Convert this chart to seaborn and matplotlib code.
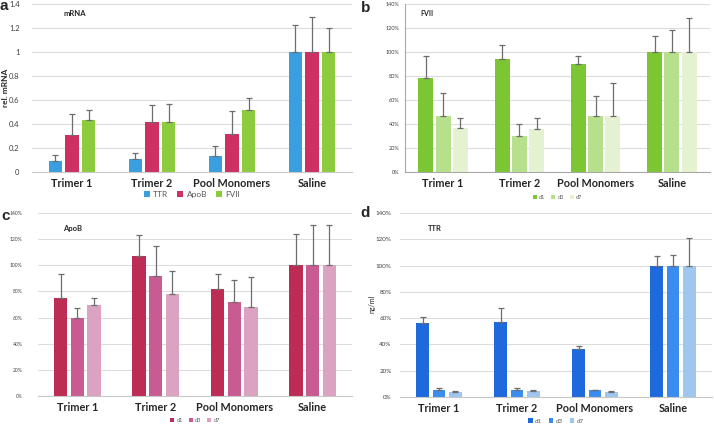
import numpy as np
import pandas as pd
import seaborn as sns
import matplotlib.pyplot as plt
from matplotlib.ticker import PercentFormatter

sns.set_style("white")
plt.rcParams['font.family'] = ['Lato', 'DejaVu Sans']

groups = ['Trimer 1', 'Trimer 2', 'Pool Monomers', 'Saline']

# panel a: relative mRNA
mrna_genes = ['TTR', 'ApoB', 'FVII']
mrna_ttr = [0.09, 0.11, 0.13, 1.0]
mrna_ttr_top = [0.14, 0.155, 0.22, 1.225]
mrna_apob = [0.31, 0.42, 0.32, 1.0]
mrna_apob_top = [0.48, 0.555, 0.505, 1.29]
mrna_fvii = [0.43, 0.42, 0.52, 1.0]
mrna_fvii_top = [0.52, 0.57, 0.615, 1.2]

days = ['d1', 'd3', 'd7']

# panel b: FVII protein (%)
fvii_d1 = [78, 94, 90, 100]
fvii_d1_top = [97, 105.5, 97, 113]
fvii_d3 = [47, 30, 47, 100]
fvii_d3_top = [66, 40, 63, 118]
fvii_d7 = [37, 35.5, 46.5, 100]
fvii_d7_top = [45, 45, 74, 128]

# panel c: ApoB protein (%)
apob_d1 = [75, 107, 82, 100]
apob_d1_top = [93, 123, 93, 124]
apob_d3 = [60, 92, 72, 100]
apob_d3_top = [67, 115, 89, 131]
apob_d7 = [70, 78, 68, 100]
apob_d7_top = [75, 96, 91, 131]

# panel d: TTR protein (%)
ttr_d1 = [56, 57, 36.5, 100]
ttr_d1_top = [61, 68, 38.5, 107]
ttr_d3 = [5.5, 5.5, 5, 100]
ttr_d3_top = [6.5, 6.5, 5.5, 108]
ttr_d7 = [4, 4.5, 4, 100]
ttr_d7_top = [4.5, 5, 4.5, 121]

W, H = 714, 426
fig = plt.figure(figsize=(W / 100, H / 100), dpi=100)


def px_axes(left, top, right, bottom):
    ax = fig.add_axes([left / W, 1 - bottom / H, (right - left) / W, (bottom - top) / H])
    ax.h_px = bottom - top
    return ax


def panel(ax, series, tops, names, colors, ymax, step, pct, tick_fs, tick_pad,
          leg_fs, leg_dy, width, gap):
    df = pd.DataFrame({
        'group': np.tile(groups, len(names)),
        'series': np.repeat(names, len(groups)),
        'value': np.concatenate(series),
    })
    sns.barplot(data=df, x='group', y='value', hue='series', order=groups,
                hue_order=names, palette=colors, errorbar=None, width=width,
                gap=gap, saturation=1, linewidth=0, ax=ax, zorder=2)
    # upper-only error bars
    for cont, top in zip(ax.containers, tops):
        xs = [b.get_x() + b.get_width() / 2 for b in cont]
        hs = [b.get_height() for b in cont]
        err = np.array(top) - np.array(hs)
        ax.errorbar(xs, hs, yerr=[np.zeros(len(hs)), err], fmt='none',
                    ecolor='#6d6d6d', elinewidth=0.9, capsize=2.0, capthick=0.9, zorder=3)
    ax.set_xlim(-0.5, 3.5)
    ax.set_ylim(0, ymax)
    ax.set_yticks(np.arange(0, ymax + step / 2, step))
    if pct:
        ax.yaxis.set_major_formatter(PercentFormatter(decimals=0))
    ax.grid(axis='y', color='#dcdcdc', linewidth=0.8, zorder=0)
    ax.set_axisbelow(True)
    for s in ['top', 'right', 'left']:
        ax.spines[s].set_visible(False)
    ax.spines['bottom'].set_color('#c8c8c8')
    ax.tick_params(axis='y', length=0, labelsize=tick_fs, colors='#404040', pad=tick_pad)
    ax.tick_params(axis='x', length=0, labelsize=7.8, pad=4)
    for lbl in ax.get_xticklabels():
        lbl.set_fontweight('bold')
    ax.set_xlabel('')
    ax.set_ylabel('')
    ax.legend(loc='center', bbox_to_anchor=(0.5, -leg_dy / ax.h_px), ncol=3, frameon=False,
              fontsize=leg_fs, handlelength=0.7, handleheight=0.7, handletextpad=0.4,
              columnspacing=1.1, labelcolor='#595959')


# a
ax_a = px_axes(32, 4, 352, 172)
panel(ax_a, [mrna_ttr, mrna_apob, mrna_fvii], [mrna_ttr_top, mrna_apob_top, mrna_fvii_top],
      mrna_genes, ['#3a9fe0', '#cf3063', '#8ccc3c'], 1.4, 0.2, False, 5.5, 9,
      6, 22, 0.62, 0.2)
ax_a.yaxis.set_major_formatter(plt.FuncFormatter(lambda v, p: f'{v:g}'))
fig.text(6 / W, 1 - 88 / H, 'rel. mRNA', rotation=90, ha='center', va='center',
         fontsize=6, fontweight='bold')
ax_a.text(0.1, 0.93, 'mRNA', transform=ax_a.transAxes, fontsize=5.5, fontweight='bold')

# b
ax_b = px_axes(405, 4, 710, 172)
panel(ax_b, [fvii_d1, fvii_d3, fvii_d7], [fvii_d1_top, fvii_d3_top, fvii_d7_top],
      days, ['#7cc633', '#b6e08b', '#e4f2d2'], 140, 20, True, 4, 3,
      4, 25, 0.68, 0.13)
ax_b.spines['left'].set_visible(True)
ax_b.spines['left'].set_color('#a8a8a8')
ax_b.spines['bottom'].set_color('#a8a8a8')
ax_b.tick_params(axis='y', length=2, color='#a8a8a8', pad=2)
ax_b.text(0.05, 0.93, 'FVII', transform=ax_b.transAxes, fontsize=5, fontweight='bold')

# c
ax_c = px_axes(38, 213, 352, 396)
panel(ax_c, [apob_d1, apob_d3, apob_d7], [apob_d1_top, apob_d3_top, apob_d7_top],
      days, ['#bd2c55', '#c85b91', '#dba2c2'], 140, 20, True, 3.6, 11,
      4, 24, 0.64, 0.2)
ax_c.text(0.08, 0.9, 'ApoB', transform=ax_c.transAxes, fontsize=5.5, fontweight='bold')

# d
ax_d = px_axes(400, 213, 712, 397)
panel(ax_d, [ttr_d1, ttr_d3, ttr_d7], [ttr_d1_top, ttr_d3_top, ttr_d7_top],
      days, ['#1e69db', '#3b8cef', '#9fc6ee'], 140, 20, True, 4.5, 6,
      4.5, 24, 0.62, 0.2)
fig.text(372 / W, 1 - 304 / H, 'ng/ml', rotation=90, ha='center', va='center', fontsize=5)
ax_d.text(0.09, 0.9, 'TTR', transform=ax_d.transAxes, fontsize=5.5, fontweight='bold')

# panel letters (baseline positions in pixels)
for x, y, s in [(0, 10, 'a'), (361, 12, 'b'), (1, 220, 'c'), (360, 217, 'd')]:
    fig.text(x / W, 1 - y / H, s, fontsize=11, fontweight='bold', va='baseline',
             family='Liberation Sans')

fig.savefig('out.png', dpi=100)
